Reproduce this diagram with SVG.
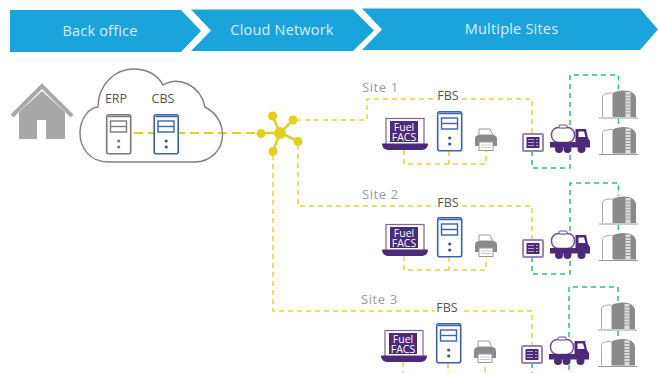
<svg xmlns="http://www.w3.org/2000/svg" width="658" height="373" viewBox="0 0 658 373">
<style>
text{font-family:"Open Sans","Liberation Sans",sans-serif}
.ban{fill:#1ba3dc}
.bt{fill:#d8eefa;font-size:14.5px;letter-spacing:.2px;text-anchor:middle}
.lab{fill:#555;font-size:12.5px;text-anchor:middle}
.site{fill:#9a9a9a;font-size:13px;letter-spacing:.6px}
.y{fill:none;stroke:#e8d43c;stroke-width:1.5;stroke-dasharray:5 4}
.yt{fill:none;stroke:#e3cf22;stroke-width:1.8;stroke-dasharray:9 5}
.g{fill:none;stroke:#35c06e;stroke-width:1.5;stroke-dasharray:5 4}
.p{fill:#4b2a7a}
.hub{fill:#e3cf22}
.hubl{stroke:#e3cf22;stroke-width:2.5}
.gr{fill:#8a8a8a}
</style>
<defs>
<g id="srvBlue">
<rect x="0.7" y="0.7" width="24" height="39" rx="2" fill="#fff" stroke="#3b62ad" stroke-width="1.6"/>
<path d="M2 2.500H24" stroke="#3b62ad" stroke-width="1.5" fill="none"/>
<rect x="4.500" y="7" width="16" height="11" fill="#fff" stroke="#3b62ad" stroke-width="1.4"/>
<path d="M4.500 12.500H20.500" stroke="#3b62ad" stroke-width="1.4"/>
<circle cx="12.700" cy="27" r="1.600" fill="#2f54a0"/><circle cx="12.700" cy="33" r="1.600" fill="#2f54a0"/>
</g>
<g id="srvGray">
<rect x="0.7" y="0.7" width="24" height="39" rx="2" fill="#fff" stroke="#7a7a7a" stroke-width="1.6"/>
<path d="M2 2.500H24" stroke="#7a7a7a" stroke-width="1.5" fill="none"/>
<rect x="4.500" y="7" width="16" height="11" fill="#fff" stroke="#7a7a7a" stroke-width="1.4"/>
<path d="M4.500 12.500H20.500" stroke="#7a7a7a" stroke-width="1.4"/>
<circle cx="12.700" cy="27" r="1.600" fill="#777"/><circle cx="12.700" cy="33" r="1.600" fill="#777"/>
</g>
<g id="laptop">
<rect x="386" y="118.500" width="38" height="27" fill="#fff" stroke="#7d62a0" stroke-width="1.200"/>
<rect x="390" y="121" width="28" height="21" class="p"/>
<path d="M382 143.500H428C428 148 425 150 421 150H389C385 150 382 148 382 143.500Z" class="p"/>
<text x="404" y="130.500" font-size="10.500" fill="#fff" text-anchor="middle">Fuel</text>
<text x="404" y="140.500" font-size="10.500" fill="#fff" text-anchor="middle">FACS</text>
</g>
<g id="printer">
<path d="M479 135V129H490L493 135Z" fill="#fff" stroke="#999" stroke-width="1"/>
<path d="M475 139C475 136 477 135 479 135H493C495 135 497 136 497 139V146H475Z" class="gr"/>
<rect x="479" y="142" width="14" height="8.500" fill="#fff" stroke="#999" stroke-width="1"/>
<path d="M481 145H491M481 147.500H491" stroke="#bbb" stroke-width="0.800"/>
</g>
<g id="device">
<rect x="523" y="134" width="20" height="17" rx="1" fill="#fff" stroke="#9a84b8" stroke-width="2"/>
<rect x="526.500" y="137" width="13" height="11" class="p"/>
<path d="M528 139.500H534M536 139.500H538M528 142.500H534M536 142.500H538M528 145.500H534M536 145.500H538" stroke="#cfc4dd" stroke-width="0.800"/>
</g>
<g id="truck">
<rect x="551.500" y="127.500" width="23" height="15" rx="7" fill="#fff" stroke="#6b4f94" stroke-width="1.500"/>
<rect x="559" y="125" width="8" height="3" rx="1" fill="#fff" stroke="#6b4f94" stroke-width="1"/>
<path d="M550 142H575.500V129H586L588 138L590 141V147.500H550Z" class="p"/>
<path d="M578.500 131.500H584L585.500 137H578.500Z" fill="#fff"/>
<circle cx="559" cy="149" r="4" class="p"/><circle cx="567.500" cy="149" r="4" class="p"/><circle cx="581.500" cy="149" r="4" class="p"/>
</g>
<g id="tank">
<path d="M602.500 117V97C602.500 94 606 93 612 93" fill="none" stroke="#aaa" stroke-width="1"/>
<path d="M612.500 117V93C618 90 628 89.500 633 93C635.500 95 636 97 636 99V117Z" class="gr"/>
<rect x="625.500" y="92" width="5" height="25" fill="#ddd"/>
<path d="M625.500 95H630.500M625.500 98H630.500M625.500 101H630.500M625.500 104H630.500M625.500 107H630.500M625.500 110H630.500M625.500 113H630.500" stroke="#888" stroke-width="0.800"/>
<path d="M599 118H638" stroke="#999" stroke-width="1.200"/>
</g>
</defs>

<g id="banner">
<path class="ban" d="M10 10H181L201 31L181 52H10Z"/>
<path class="ban" d="M191 9.500H353L374 30.500L353 51H191L211 30.500Z"/>
<path class="ban" d="M362 8.500H640L658 29.500L640 50H362L382 29.500Z"/>
<text class="bt" x="100" y="36">Back office</text>
<text class="bt" x="282" y="35">Cloud Network</text>
<text class="bt" x="511.500" y="34">Multiple Sites</text>
</g>

<g id="connectors">
<path class="yt" d="M134 133H257"/>
<path class="y" d="M296 120H367V99H436M462 99H532V133"/>
<path class="y" d="M404 150V164H486V150M449 151V164"/>
<path class="g" d="M570 125V75H618.500V90M618.500 119V127"/>
<path class="g" d="M532 151V168H570V153"/>
<path class="y" d="M298 145V206H436M462 206H532V239"/>
<path class="y" d="M404 256V270H486V256M449 257V270"/>
<path class="g" d="M570 231V183H618.500V196M618.500 225V233"/>
<path class="g" d="M532 257V274H570V259"/>
<path class="y" d="M273 155V311H435M464 311H532V345"/>
<path class="y" d="M403 362V373M448 363V373M485 367V373"/>
<path class="g" d="M569 337V287H618V302M618 331V339"/>
<path class="g" d="M532 363V373M569 365V373"/>
</g>

<g id="home">
<path d="M12 116L42 86L72 116" fill="none" stroke="#a8a8a8" stroke-width="4"/>
<path d="M19 139V112L42 91L65 112V139H46V120H37V139Z" fill="#a8a8a8"/>
</g>

<g id="cloud">
<path d="M108 162C90 162 80 148 80 133C80 118 90 107 98 107C98 85 115 69 133 69C148 69 158 76 163 85C178 76 200 84 205 107C215 112 222.500 122 222.500 135C222.500 150 210 162 195 162Z" fill="none" stroke="#7f7f7f" stroke-width="1.400"/>
<text class="lab" x="116" y="103">ERP</text>
<text class="lab" x="163" y="103">CBS</text>
</g>
<g id="erp"><use href="#srvGray" x="106" y="114"/></g>
<g id="cbs"><use href="#srvBlue" x="153.500" y="114"/></g>

<g id="hub">
<path class="hubl" d="M280 133L272.500 116M280 133L293 120M280 133L298 141M280 133L273 151M280 133L261 133"/>
<circle class="hub" cx="280" cy="133" r="6"/>
<circle class="hub" cx="272.500" cy="116" r="4.500"/>
<circle class="hub" cx="293" cy="120" r="4.500"/>
<circle class="hub" cx="298" cy="141.500" r="4.500"/>
<circle class="hub" cx="273" cy="151.500" r="4.500"/>
<circle class="hub" cx="261" cy="133.500" r="4.500"/>
</g>

<g id="site1">
<text class="site" x="362" y="92">Site 1</text>
<text class="lab" x="448" y="100">FBS</text>
<use href="#laptop"/><use href="#srvBlue" x="437" y="111"/><use href="#printer"/><use href="#device"/><use href="#truck"/><use href="#tank"/><use href="#tank" y="36.500"/>
</g>
<g id="site2">
<text class="site" x="362" y="199">Site 2</text>
<text class="lab" x="448" y="207">FBS</text>
<use href="#laptop" y="106"/><use href="#srvBlue" x="437" y="217"/><use href="#printer" y="106"/><use href="#device" y="106"/><use href="#truck" y="106"/><use href="#tank" y="106"/><use href="#tank" y="142.500"/>
</g>
<g id="site3">
<text class="site" x="361" y="304">Site 3</text>
<text class="lab" x="447" y="312">FBS</text>
<use href="#laptop" x="-1" y="212"/><use href="#srvBlue" x="436" y="323"/><use href="#printer" x="-1" y="212"/><use href="#device" x="-1" y="212"/><use href="#truck" x="-1" y="212"/><use href="#tank" x="-1" y="212"/><use href="#tank" x="-1" y="248.500"/>
</g>
</svg>
